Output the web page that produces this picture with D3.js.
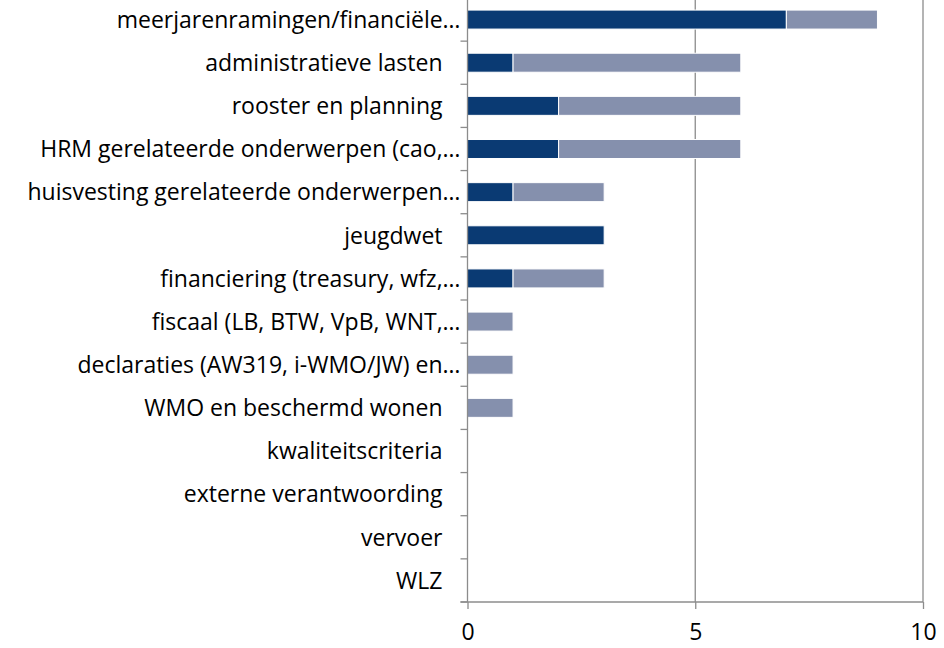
<!DOCTYPE html>
<html>
<head>
<meta charset="utf-8">
<script src="https://cdn.jsdelivr.net/npm/d3@7"></script>
<style>
  body { margin: 0; background: #fff; }
  text { font-family: "Open Sans", Lato, sans-serif; fill: #000; font-variant-ligatures: none; }
</style>
</head>
<body>
<script>
// categories, top to bottom
var categories = [
  "meerjarenramingen/financiële…",
  "administratieve lasten",
  "rooster en planning",
  "HRM gerelateerde onderwerpen (cao,…",
  "huisvesting gerelateerde onderwerpen…",
  "jeugdwet",
  "financiering (treasury, wfz,…",
  "fiscaal (LB, BTW, VpB, WNT,…",
  "declaraties (AW319, i-WMO/JW) en…",
  "WMO en beschermd wonen",
  "kwaliteitscriteria",
  "externe verantwoording",
  "vervoer",
  "WLZ"
];
// two series (dark and light)
var seriesA = [7, 1, 2, 2, 1, 3, 1, 0, 0, 0, 0, 0, 0, 0];
var seriesB = [2, 5, 4, 4, 2, 0, 2, 1, 1, 1, 0, 0, 0, 0];
var xTicks = [0, 5, 10];

var colors = ["#0a3a73", "#8590ad"];

var margin = { top: -2, left: 467.5, right: 21, bottom: 46 };
var W = 944, H = 648;

var svg = d3.select("body").append("svg")
  .attr("width", W).attr("height", H);

var x = d3.scaleLinear().domain([0, 10]).range([margin.left, W - margin.right]);
var y = d3.scaleBand().domain(categories)
  .range([margin.top, H - margin.bottom])
  .paddingInner(0.56).paddingOuter(0.28);

// build stacked table
var table = categories.map(function (c, i) {
  return { cat: c, a: seriesA[i], b: seriesB[i] };
});
var stacked = d3.stack().keys(["a", "b"])(table);

var axisColor = "#8c8c8c";

// gridlines
svg.append("g")
  .selectAll("line")
  .data(xTicks.filter(function (d) { return d > 0; }))
  .enter().append("line")
  .attr("x1", function (d) { return x(d); })
  .attr("x2", function (d) { return x(d); })
  .attr("y1", 0)
  .attr("y2", H - margin.bottom)
  .attr("stroke", axisColor)
  .attr("stroke-width", 1.3);

// bars
svg.append("g").selectAll("g")
  .data(stacked).enter().append("g")
  .attr("fill", function (d, i) { return colors[i]; })
  .selectAll("rect")
  .data(function (d) { return d.filter(function (v) { return v[1] > v[0]; }); })
  .enter().append("rect")
  .attr("x", function (d) { return x(d[0]); })
  .attr("width", function (d) { return x(d[1]) - x(d[0]); })
  .attr("y", function (d) { return y(d.data.cat); })
  .attr("height", y.bandwidth())
  .attr("stroke", "#fff")
  .attr("stroke-width", 1);

// y axis
var yAxis = svg.append("g")
  .attr("transform", "translate(" + margin.left + ",0)");
yAxis.append("line")
  .attr("x1", 0).attr("x2", 0)
  .attr("y1", 0).attr("y2", H - margin.bottom)
  .attr("stroke", axisColor).attr("stroke-width", 1.3);
var step = y.step();
var bounds = d3.range(categories.length + 1).map(function (i) {
  return margin.top + i * step;
});
yAxis.selectAll(".tk")
  .data(bounds).enter().append("line")
  .attr("x1", -7).attr("x2", 0)
  .attr("y1", function (d) { return d; })
  .attr("y2", function (d) { return d; })
  .attr("stroke", axisColor).attr("stroke-width", 1.3);
// truncated labels sit closer to the axis than full ones
yAxis.selectAll("text")
  .data(categories).enter().append("text")
  .attr("x", function (d) { return d.slice(-1) === "…" ? -7 : -25; })
  .attr("y", function (d) { return y(d) + y.bandwidth() / 2; })
  .attr("dy", "0.36em")
  .attr("text-anchor", "end")
  .style("font-size", "23px")
  .text(function (d) { return d; });

// x axis
var xAxis = svg.append("g")
  .attr("transform", "translate(0," + (H - margin.bottom) + ")")
  .call(d3.axisBottom(x).tickValues(xTicks).tickSize(7).tickPadding(15));
xAxis.select(".domain").remove();
xAxis.append("line")
  .attr("x1", margin.left - 7).attr("x2", x(10))
  .attr("stroke", axisColor).attr("stroke-width", 1.3);
xAxis.selectAll(".tick line").attr("stroke", axisColor).attr("stroke-width", 1.3);
xAxis.selectAll(".tick text")
  .style("font-family", "'Open Sans', Lato, sans-serif")
  .style("font-size", "23px")
  .attr("fill", "#000");
</script>
</body>
</html>
